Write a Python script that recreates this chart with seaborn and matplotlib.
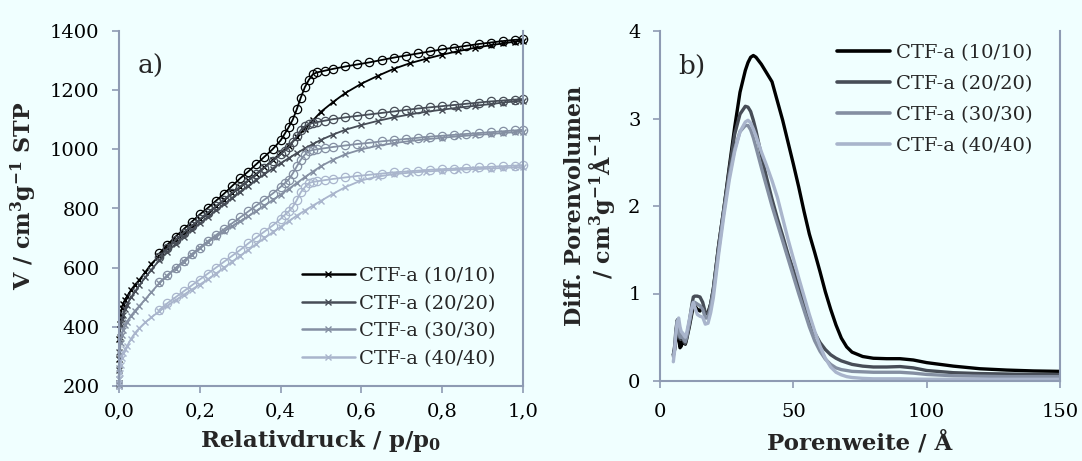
import numpy as np
import pandas as pd
import matplotlib
matplotlib.use("Agg")
import matplotlib.pyplot as plt
import seaborn as sns
from matplotlib.lines import Line2D

# ---------------- data: panel a) isotherms ----------------
series_names = ["CTF-a (10/10)", "CTF-a (20/20)", "CTF-a (30/30)", "CTF-a (40/40)"]
series_colors = ["#000000", "#474D57", "#848FA2", "#A9B5CC"]

p_ads = [0.0002, 0.0005, 0.001, 0.002, 0.004, 0.007, 0.01, 0.015, 0.02, 0.03, 0.04, 0.05,
         0.065, 0.08, 0.1, 0.12, 0.14, 0.16, 0.18, 0.2, 0.22, 0.24, 0.26, 0.28, 0.3, 0.32,
         0.34, 0.36, 0.38, 0.4, 0.42, 0.44, 0.46, 0.48, 0.5, 0.53, 0.56, 0.6, 0.64, 0.68,
         0.72, 0.76, 0.8, 0.84, 0.88, 0.92, 0.95, 0.98, 1.0]
ads_10 = [210, 290, 360, 410, 440, 462, 478, 492, 503, 525, 543, 558,
          585, 613, 640, 668, 694, 718, 741, 763, 785, 807, 829, 851, 873, 895,
          917, 940, 963, 987, 1012, 1040, 1070, 1098, 1127, 1160, 1190, 1222, 1248, 1272,
          1291, 1306, 1320, 1332, 1343, 1352, 1358, 1364, 1367]
ads_20 = [205, 255, 315, 365, 402, 425, 440, 460, 475, 500, 520, 540,
          567, 593, 625, 654, 680, 705, 728, 750, 772, 794, 815, 836, 857, 877,
          897, 916, 935, 953, 970, 987, 1003, 1018, 1032, 1050, 1066, 1082, 1096, 1108,
          1118, 1127, 1134, 1141, 1147, 1153, 1158, 1162, 1165]
ads_30 = [200, 225, 262, 305, 345, 372, 388, 405, 418, 438, 455, 470,
          493, 517, 548, 573, 597, 620, 643, 665, 686, 705, 723, 740, 757, 774,
          792, 810, 828, 847, 866, 886, 906, 925, 943, 965, 983, 1000, 1012, 1021,
          1028, 1034, 1039, 1044, 1048, 1052, 1055, 1058, 1060]
ads_40 = [200, 210, 225, 245, 270, 295, 310, 325, 335, 360, 380, 395,
          415, 432, 453, 472, 490, 508, 526, 543, 561, 580, 600, 620, 640, 660,
          680, 700, 719, 738, 757, 776, 793, 810, 826, 850, 872, 895, 908, 916,
          921, 925, 928, 931, 933, 935, 937, 939, 940]

p_des = [1.0, 0.98, 0.95, 0.92, 0.89, 0.86, 0.83, 0.8, 0.77, 0.74, 0.71, 0.68, 0.65, 0.62,
         0.59, 0.56, 0.53, 0.51, 0.49, 0.48, 0.47, 0.46, 0.45, 0.44, 0.43, 0.42, 0.41, 0.4,
         0.38, 0.36, 0.34, 0.32, 0.3, 0.28, 0.26, 0.24, 0.22, 0.2, 0.18, 0.16, 0.14, 0.12, 0.1]
des_10 = [1372, 1370, 1366, 1361, 1356, 1350, 1344, 1338, 1331, 1324, 1317, 1310, 1302, 1294,
          1287, 1280, 1272, 1266, 1260, 1254, 1235, 1210, 1175, 1135, 1100, 1075, 1052, 1030,
          1000, 975, 950, 925, 902, 876, 850, 826, 802, 780, 755, 730, 705, 678, 648]
des_20 = [1170, 1168, 1165, 1162, 1158, 1154, 1150, 1146, 1142, 1138, 1133, 1128, 1123, 1118,
          1113, 1108, 1102, 1097, 1092, 1089, 1085, 1078, 1065, 1045, 1025, 1008, 995, 983,
          960, 938, 916, 894, 873, 852, 830, 808, 786, 763, 741, 718, 693, 665, 636]
des_30 = [1066, 1064, 1061, 1058, 1055, 1052, 1049, 1046, 1043, 1039, 1035, 1031, 1027, 1022,
          1018, 1013, 1008, 1004, 1000, 998, 994, 982, 965, 942, 918, 898, 885, 873,
          850, 830, 810, 790, 770, 750, 730, 710, 690, 668, 646, 623, 599, 575, 550]
des_40 = [946, 945, 943, 941, 939, 937, 935, 933, 931, 928, 925, 922, 918, 914,
          910, 905, 900, 896, 892, 890, 886, 872, 855, 828, 805, 790, 778, 765,
          742, 722, 702, 682, 660, 640, 620, 600, 580, 560, 540, 520, 500, 480, 458]

ads_all = [ads_10, ads_20, ads_30, ads_40]
des_all = [des_10, des_20, des_30, des_40]

a_xticks = [0.0, 0.2, 0.4, 0.6, 0.8, 1.0]
a_xticklabels = ["0,0", "0,2", "0,4", "0,6", "0,8", "1,0"]
a_yticks = [200, 400, 600, 800, 1000, 1200, 1400]

# ---------------- data: panel b) pore size distribution ----------------
w = [5, 5.5, 6, 6.5, 7, 7.5, 8, 8.5, 9, 9.5, 10, 11, 12, 12.5, 13, 14, 15, 16, 17, 18,
     19, 20, 22, 24, 26, 28, 30, 32, 33, 34, 35, 36, 38, 40, 42, 44, 46, 48, 50, 52,
     54, 56, 58, 60, 62, 64, 66, 68, 70, 72, 76, 80, 85, 90, 95, 100, 110, 120, 130, 140, 150]
psd_10 = [0.30, 0.36, 0.50, 0.58, 0.48, 0.38, 0.40, 0.46, 0.44, 0.42, 0.48, 0.62, 0.78, 0.84, 0.86, 0.82, 0.80, 0.85, 0.78, 0.78,
          0.88, 1.05, 1.55, 1.98, 2.45, 2.90, 3.30, 3.55, 3.64, 3.70, 3.72, 3.70, 3.62, 3.52, 3.42, 3.20, 2.98, 2.73, 2.48, 2.22,
          1.94, 1.68, 1.47, 1.25, 1.02, 0.82, 0.64, 0.49, 0.39, 0.33, 0.28, 0.26, 0.255, 0.255, 0.24, 0.21, 0.17, 0.14, 0.125, 0.115, 0.11]
psd_20 = [0.30, 0.40, 0.60, 0.70, 0.58, 0.48, 0.48, 0.50, 0.45, 0.43, 0.50, 0.68, 0.88, 0.96, 0.97, 0.97, 0.96, 0.90, 0.78, 0.76,
          0.88, 1.05, 1.55, 1.98, 2.42, 2.82, 3.05, 3.14, 3.13, 3.08, 2.98, 2.86, 2.58, 2.32, 2.08, 1.86, 1.66, 1.45, 1.27, 1.08,
          0.90, 0.72, 0.55, 0.44, 0.36, 0.30, 0.26, 0.23, 0.21, 0.19, 0.17, 0.16, 0.16, 0.165, 0.15, 0.12, 0.095, 0.085, 0.08, 0.075, 0.075]
psd_30 = [0.28, 0.38, 0.55, 0.68, 0.60, 0.50, 0.50, 0.52, 0.47, 0.45, 0.50, 0.65, 0.82, 0.88, 0.90, 0.88, 0.86, 0.82, 0.72, 0.72,
          0.85, 1.02, 1.50, 1.95, 2.35, 2.65, 2.85, 2.92, 2.92, 2.87, 2.78, 2.67, 2.44, 2.22, 2.00, 1.80, 1.60, 1.40, 1.20, 1.00,
          0.81, 0.62, 0.46, 0.34, 0.25, 0.19, 0.15, 0.13, 0.12, 0.11, 0.105, 0.10, 0.10, 0.10, 0.09, 0.075, 0.06, 0.055, 0.05, 0.05, 0.05]
psd_40 = [0.22, 0.35, 0.55, 0.68, 0.72, 0.62, 0.56, 0.55, 0.52, 0.50, 0.55, 0.70, 0.85, 0.90, 0.85, 0.76, 0.74, 0.73, 0.65, 0.66,
          0.78, 0.95, 1.45, 1.90, 2.30, 2.62, 2.85, 2.96, 2.98, 2.95, 2.88, 2.80, 2.62, 2.46, 2.29, 2.10, 1.86, 1.62, 1.40, 1.18,
          0.97, 0.76, 0.57, 0.40, 0.26, 0.16, 0.10, 0.07, 0.05, 0.04, 0.03, 0.025, 0.025, 0.025, 0.022, 0.02, 0.02, 0.02, 0.02, 0.02, 0.02]
psd_all = [psd_10, psd_20, psd_30, psd_40]

b_xticks = [0, 50, 100, 150]
b_yticks = [0, 1, 2, 3, 4]

# ---------------- style ----------------
BG = "#F0FFFF"
SPINE = "#8E9BB3"
sns.set_theme(style="white")
plt.rcParams["font.family"] = ["DejaVu Serif"]
plt.rcParams["mathtext.fontset"] = "dejavuserif"
plt.rcParams["mathtext.default"] = "bf"
plt.rcParams["axes.facecolor"] = BG
plt.rcParams["figure.facecolor"] = BG

fig = plt.figure(figsize=(10.82, 4.61), dpi=100)
axa = fig.add_axes([119 / 1082, 1 - 386 / 461, 404 / 1082, 355 / 461])
axb = fig.add_axes([660 / 1082, 1 - 381 / 461, 400 / 1082, 350 / 461])

# panel a
for name, col, ya, yd in zip(series_names, series_colors, ads_all, des_all):
    sns.lineplot(x=p_ads, y=ya, ax=axa, color=col, lw=1.3, marker="x", ms=5, mew=1.0,
                 mec=col, sort=False, estimator=None, clip_on=False)
    sns.lineplot(x=p_des, y=yd, ax=axa, color=col, lw=1.3, marker="o", ms=6, mew=0.9,
                 mfc="none", mec=col, sort=False, estimator=None, clip_on=False)

axa.set_xlim(0, 1.0)
axa.set_ylim(200, 1400)
axa.set_xticks(a_xticks)
axa.set_xticklabels(a_xticklabels)
axa.set_yticks(a_yticks)
axa.set_xlabel(r"Relativdruck / p/p$_\mathbf{0}$", fontsize=16.5, fontweight="bold", labelpad=5)
axa.set_ylabel(r"V / cm$^\mathbf{3}$g$^\mathbf{-1}$ STP", fontsize=16, fontweight="bold", labelpad=8)
axa.yaxis.set_label_coords(-0.197, 0.535)
axa.text(0.045, 0.9, "a)", transform=axa.transAxes, fontsize=19, va="center", ha="left")

handles_a = [Line2D([], [], color=c, lw=1.8, marker="x", ms=5, mew=1.0) for c in series_colors]
axa.legend(handles_a, series_names, loc="upper left", bbox_to_anchor=(0.453, 0.335),
           frameon=False, fontsize=14, handlelength=2.7, handletextpad=0.25,
           labelspacing=0.49, borderpad=0, borderaxespad=0)

# panel b
for name, col, yv in zip(series_names, series_colors, psd_all):
    sns.lineplot(x=w, y=yv, ax=axb, color=col, lw=2.4, sort=False, estimator=None)

axb.set_xlim(0, 150)
axb.set_ylim(0, 4)
axb.set_xticks(b_xticks)
axb.set_yticks(b_yticks)
axb.set_xlabel("Porenweite / \u00c5", fontsize=16.5, fontweight="bold", labelpad=7)
axb.set_ylabel("Diff. Porenvolumen\n" + r"/ cm$^\mathbf{3}$g$^\mathbf{-1}$Å$^\mathbf{-1}$",
               fontsize=16, fontweight="bold", labelpad=8, linespacing=1.0)
axb.text(0.045, 0.9, "b)", transform=axb.transAxes, fontsize=19, va="center", ha="left")

handles_b = [Line2D([], [], color=c, lw=2.6) for c in series_colors]
axb.legend(handles_b, series_names, loc="upper left", bbox_to_anchor=(0.4425, 0.964),
           frameon=False, fontsize=14, handlelength=2.7, handletextpad=0.35,
           labelspacing=0.67, borderpad=0, borderaxespad=0)

for ax in (axa, axb):
    for side in ("left", "bottom", "right"):
        ax.spines[side].set_visible(True)
        ax.spines[side].set_color(SPINE)
        ax.spines[side].set_linewidth(1.5)
    ax.spines["top"].set_visible(False)
    ax.tick_params(axis="both", which="major", direction="out", length=5, width=1.2,
                   color=SPINE, labelsize=14, labelcolor="black",
                   left=True, bottom=True, right=False, top=False)
    ax.tick_params(axis="y", pad=9)
    ax.grid(False)
axa.tick_params(axis="x", pad=7)
axb.tick_params(axis="x", pad=11)

fig.savefig("out.png", dpi=100, facecolor=BG)
